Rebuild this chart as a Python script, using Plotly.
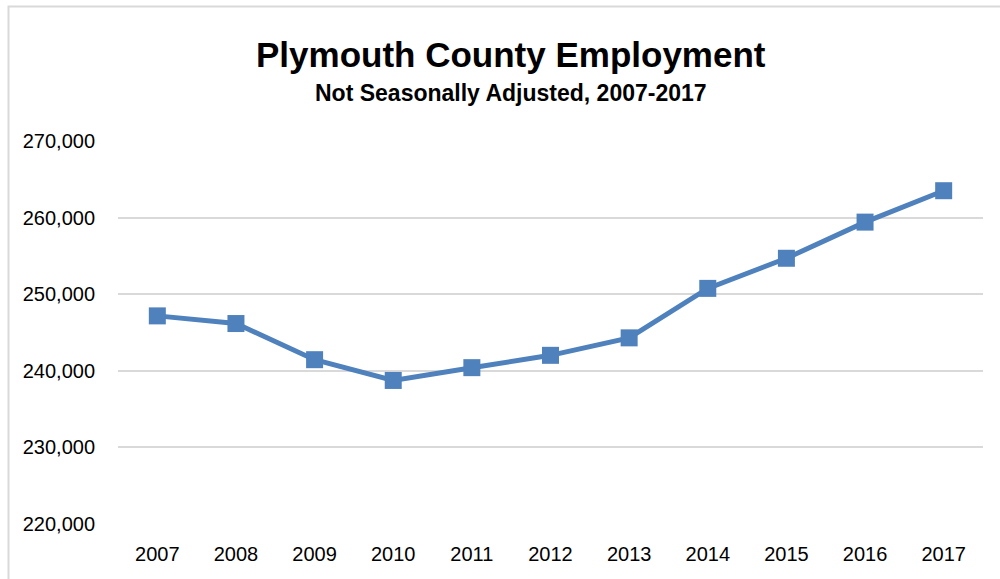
import plotly.graph_objects as go

# Annual employment, Plymouth County (not seasonally adjusted)
years = ["2007", "2008", "2009", "2010", "2011", "2012",
         "2013", "2014", "2015", "2016", "2017"]
employment = [247170, 246170, 241450, 238740, 240410, 242020,
              244300, 250760, 254690, 259410, 263510]

y_ticks = [220000, 230000, 240000, 250000, 260000, 270000]
y_tick_labels = ["220,000", "230,000", "240,000", "250,000", "260,000", "270,000"]

title_text = "Plymouth County Employment"
subtitle_text = "Not Seasonally Adjusted, 2007-2017"

BLUE = "#4f81bd"
GRID = "#d9d9d9"
FONT = "Liberation Sans, Arial, sans-serif"

W, H = 1000, 579
ML, MR, MT, MB = 118, 17, 141, 55
plot_w = W - ML - MR
plot_h = H - MT - MB


def px_to_paper_x(px):
    return (px - ML) / plot_w


def px_to_paper_y(py):
    return (H - MB - py) / plot_h


fig = go.Figure()
fig.add_trace(go.Scatter(
    x=years,
    y=employment,
    mode="lines+markers",
    line=dict(color=BLUE, width=5),
    marker=dict(symbol="square", size=17, color=BLUE),
    hoverinfo="x+y",
    showlegend=False,
))

# Chart frame
fig.add_shape(
    type="rect", xref="paper", yref="paper", layer="below",
    x0=px_to_paper_x(8.5), x1=px_to_paper_x(1010),
    y0=px_to_paper_y(590), y1=px_to_paper_y(6.5),
    line=dict(color=GRID, width=2), fillcolor="rgba(0,0,0,0)",
)

# Title and subtitle
fig.add_annotation(
    text=f"<b>{title_text}</b>", xref="paper", yref="paper",
    x=px_to_paper_x(511), y=px_to_paper_y(54), xanchor="center", yanchor="middle",
    showarrow=False, font=dict(family=FONT, size=35, color="#000000"),
)
fig.add_annotation(
    text=f"<b>{subtitle_text}</b>", xref="paper", yref="paper",
    x=px_to_paper_x(511), y=px_to_paper_y(93), xanchor="center", yanchor="middle",
    showarrow=False, font=dict(family=FONT, size=23, color="#000000"),
)

fig.update_layout(
    width=W, height=H,
    margin=dict(l=ML, r=MR, t=MT, b=MB, autoexpand=False),
    paper_bgcolor="#ffffff",
    plot_bgcolor="#ffffff",
    font=dict(family=FONT, size=20, color="#000000"),
    xaxis=dict(
        type="category",
        showgrid=False, zeroline=False, showline=False,
        ticks="", tickfont=dict(size=20), ticklabelstandoff=16,
        range=[-0.5, len(years) - 0.5],
    ),
    yaxis=dict(
        range=[220000, 270000],
        tickvals=y_ticks, ticktext=y_tick_labels,
        showgrid=True, gridcolor=GRID, gridwidth=2,
        zeroline=False, showline=False,
        ticks="", ticklabelstandoff=22, tickfont=dict(size=20),
    ),
)

fig.write_html("out.html")
